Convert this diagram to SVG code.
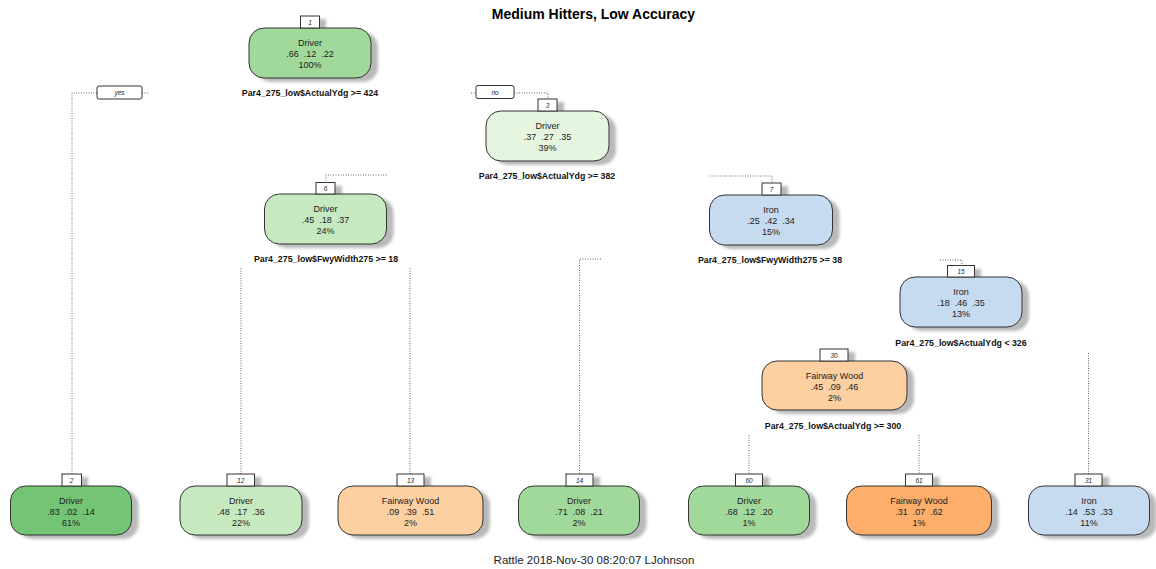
<svg xmlns="http://www.w3.org/2000/svg" width="1156" height="569" viewBox="0 0 1156 569">
<defs>
<filter id="sh" x="-20%" y="-30%" width="140%" height="160%"><feGaussianBlur stdDeviation="1.8"/></filter>
<style>
text{font-family:"Liberation Sans",Arial,sans-serif;fill:#222}
.t{font-size:9px;text-anchor:middle}
.s{font-size:8.8px;font-weight:bold;text-anchor:middle;fill:#111}
.n{font-size:6.5px;font-style:italic;text-anchor:middle}
.box{stroke:#333;stroke-width:1}
.nb{fill:#fff;stroke:#333;stroke-width:1}
.shd{fill:#a8a8a8;opacity:.8;filter:url(#sh)}
.c{fill:none;stroke:#666;stroke-width:1;stroke-dasharray:1 1.5}
.lb{fill:#fff;stroke:#333;stroke-width:1}
</style>
</defs>
<rect width="1156" height="569" fill="#fff"/>
<text x="593.5" y="19" style="font-size:14px;font-weight:bold;text-anchor:middle;fill:#000">Medium Hitters, Low Accuracy</text>
<text x="594" y="564" style="font-size:11.5px;text-anchor:middle;fill:#222">Rattle 2018-Nov-30 08:20:07 LJohnson</text>

<g id="connectors">
<path class="c" d="M72,474 V93 H97 M142,93 H148"/>
<path class="c" d="M471,93 H476 M514,93 H548 V99"/>
<path class="c" d="M326,183 V175 H388"/>
<path class="c" d="M710,176 H772 V183"/>
<path class="c" d="M241,268 V474"/>
<path class="c" d="M410,268 V474"/>
<path class="c" d="M601,259 H579.5 V474"/>
<path class="c" d="M940,260 H962 V266"/>
<path class="c" d="M1088.5,353 V474"/>
<path class="c" d="M749,435 V474"/>
<path class="c" d="M919,435 V474"/>
<rect class="lb" x="97" y="86" width="45" height="13" rx="2"/>
<text class="n" x="119.5" y="95">yes</text>
<rect class="lb" x="476" y="85.5" width="38" height="13" rx="2"/>
<text class="n" x="495" y="94.5">no</text>
</g>

<g id="node-1">
<rect class="shd" x="256" y="32" width="122" height="50" rx="15"/>
<rect class="shd" x="307" y="19" width="19" height="12"/>
<rect class="box" x="249" y="28" width="122" height="50" rx="15" fill="#A1D99B"/>
<rect class="nb" x="300.5" y="16" width="19" height="12"/>
<text class="n" x="310" y="24.5">1</text>
<text class="t" x="310" y="46">Driver</text>
<text class="t" x="310" y="57">.66&#160; .12&#160; .22</text>
<text class="t" x="310" y="68">100%</text>
<text class="s" x="310" y="96">Par4_275_low$ActualYdg &gt;= 424</text>
</g>

<g id="node-3">
<rect class="shd" x="493" y="115" width="123" height="50" rx="15"/>
<rect class="shd" x="545" y="102" width="19" height="12"/>
<rect class="box" x="486" y="111" width="123" height="50" rx="15" fill="#E5F5E0"/>
<rect class="nb" x="538" y="99" width="19" height="12"/>
<text class="n" x="547.5" y="107.5">3</text>
<text class="t" x="547.5" y="129">Driver</text>
<text class="t" x="547.5" y="140">.37&#160; .27&#160; .35</text>
<text class="t" x="547.5" y="151">39%</text>
<text class="s" x="547" y="179">Par4_275_low$ActualYdg &gt;= 382</text>
</g>

<g id="node-6">
<rect class="shd" x="271.5" y="198" width="122" height="50" rx="15"/>
<rect class="shd" x="323" y="186" width="19" height="12"/>
<rect class="box" x="264.5" y="194" width="122" height="50" rx="15" fill="#C7E9C0"/>
<rect class="nb" x="316" y="182.5" width="19" height="11.5"/>
<text class="n" x="325.5" y="190.5">6</text>
<text class="t" x="325.5" y="212">Driver</text>
<text class="t" x="325.5" y="223">.45&#160; .18&#160; .37</text>
<text class="t" x="325.5" y="234">24%</text>
<text class="s" x="326" y="262">Par4_275_low$FwyWidth275 &gt;= 18</text>
</g>

<g id="node-7">
<rect class="shd" x="716.5" y="199" width="123" height="50" rx="15"/>
<rect class="shd" x="769" y="186" width="19" height="12"/>
<rect class="box" x="709.5" y="195" width="123" height="50" rx="15" fill="#C6DBEF"/>
<rect class="nb" x="762" y="183" width="19" height="12"/>
<text class="n" x="771.5" y="191.5">7</text>
<text class="t" x="771" y="213">Iron</text>
<text class="t" x="771" y="224">.25&#160; .42&#160; .34</text>
<text class="t" x="771" y="235">15%</text>
<text class="s" x="770" y="263">Par4_275_low$FwyWidth275 &gt;= 38</text>
</g>

<g id="node-15">
<rect class="shd" x="907" y="281" width="122" height="50" rx="15"/>
<rect class="shd" x="954" y="269" width="27" height="12"/>
<rect class="box" x="900" y="277" width="122" height="50" rx="15" fill="#C6DBEF"/>
<rect class="nb" x="947.5" y="265.5" width="27" height="11.5"/>
<text class="n" x="961" y="274">15</text>
<text class="t" x="961" y="295">Iron</text>
<text class="t" x="961" y="306">.18&#160; .46&#160; .35</text>
<text class="t" x="961" y="317">13%</text>
<text class="s" x="961" y="346">Par4_275_low$ActualYdg &lt; 326</text>
</g>

<g id="node-30">
<rect class="shd" x="769" y="365" width="145" height="49" rx="15"/>
<rect class="shd" x="827" y="352" width="28" height="12"/>
<rect class="box" x="762" y="361" width="145" height="49" rx="15" fill="#FDD0A2"/>
<rect class="nb" x="820" y="349" width="28" height="12"/>
<text class="n" x="834" y="357.5">30</text>
<text class="t" x="834.5" y="379">Fairway Wood</text>
<text class="t" x="834.5" y="390">.45&#160; .09&#160; .46</text>
<text class="t" x="834.5" y="401">2%</text>
<text class="s" x="833" y="428.5">Par4_275_low$ActualYdg &gt;= 300</text>
</g>

<g id="node-2">
<rect class="shd" x="17.5" y="490" width="121" height="49" rx="15"/>
<rect class="shd" x="69" y="477" width="19" height="12"/>
<rect class="box" x="10.5" y="486" width="121" height="49" rx="15" fill="#74C476"/>
<rect class="nb" x="62" y="474" width="19.5" height="12"/>
<text class="n" x="71.5" y="482.5">2</text>
<text class="t" x="71" y="504">Driver</text>
<text class="t" x="71" y="515">.83&#160; .02&#160; .14</text>
<text class="t" x="71" y="526">61%</text>
</g>

<g id="node-12">
<rect class="shd" x="187" y="490" width="122" height="49" rx="15"/>
<rect class="shd" x="234" y="477" width="27" height="12"/>
<rect class="box" x="180" y="486" width="122" height="49" rx="15" fill="#C7E9C0"/>
<rect class="nb" x="227" y="474" width="27.5" height="12"/>
<text class="n" x="240.7" y="482.5">12</text>
<text class="t" x="241" y="504">Driver</text>
<text class="t" x="241" y="515">.48&#160; .17&#160; .36</text>
<text class="t" x="241" y="526">22%</text>
</g>

<g id="node-13">
<rect class="shd" x="345" y="490" width="145" height="49" rx="15"/>
<rect class="shd" x="404" y="477" width="27" height="12"/>
<rect class="box" x="338" y="486" width="145" height="49" rx="15" fill="#FDD0A2"/>
<rect class="nb" x="397" y="474" width="27" height="12"/>
<text class="n" x="410.5" y="482.5">13</text>
<text class="t" x="410.5" y="504">Fairway Wood</text>
<text class="t" x="410.5" y="515">.09&#160; .39&#160; .51</text>
<text class="t" x="410.5" y="526">2%</text>
</g>

<g id="node-14">
<rect class="shd" x="525.5" y="490" width="121" height="49" rx="15"/>
<rect class="shd" x="573" y="477" width="27" height="12"/>
<rect class="box" x="518.5" y="486" width="121" height="49" rx="15" fill="#A1D99B"/>
<rect class="nb" x="566" y="474" width="27" height="12"/>
<text class="n" x="579.5" y="482.5">14</text>
<text class="t" x="579" y="504">Driver</text>
<text class="t" x="579" y="515">.71&#160; .08&#160; .21</text>
<text class="t" x="579" y="526">2%</text>
</g>

<g id="node-60">
<rect class="shd" x="695.5" y="490" width="121" height="49" rx="15"/>
<rect class="shd" x="742.5" y="477" width="27" height="12"/>
<rect class="box" x="688.5" y="486" width="121" height="49" rx="15" fill="#A1D99B"/>
<rect class="nb" x="735.5" y="474" width="27" height="12"/>
<text class="n" x="749" y="482.5">60</text>
<text class="t" x="749" y="504">Driver</text>
<text class="t" x="749" y="515">.68&#160; .12&#160; .20</text>
<text class="t" x="749" y="526">1%</text>
</g>

<g id="node-61">
<rect class="shd" x="853.5" y="490" width="145" height="49" rx="15"/>
<rect class="shd" x="912.5" y="477" width="27" height="12"/>
<rect class="box" x="846.5" y="486" width="145" height="49" rx="15" fill="#FDAE6B"/>
<rect class="nb" x="905.5" y="474" width="27" height="12"/>
<text class="n" x="919" y="482.5">61</text>
<text class="t" x="919" y="504">Fairway Wood</text>
<text class="t" x="919" y="515">.31&#160; .07&#160; .62</text>
<text class="t" x="919" y="526">1%</text>
</g>

<g id="node-31">
<rect class="shd" x="1035.5" y="490" width="121" height="49" rx="15"/>
<rect class="shd" x="1082" y="477" width="27" height="12"/>
<rect class="box" x="1028.5" y="486" width="121" height="49" rx="15" fill="#C6DBEF"/>
<rect class="nb" x="1075" y="474" width="27" height="12"/>
<text class="n" x="1088.5" y="482.5">31</text>
<text class="t" x="1089" y="504">Iron</text>
<text class="t" x="1089" y="515">.14&#160; .53&#160; .33</text>
<text class="t" x="1089" y="526">11%</text>
</g>
</svg>
